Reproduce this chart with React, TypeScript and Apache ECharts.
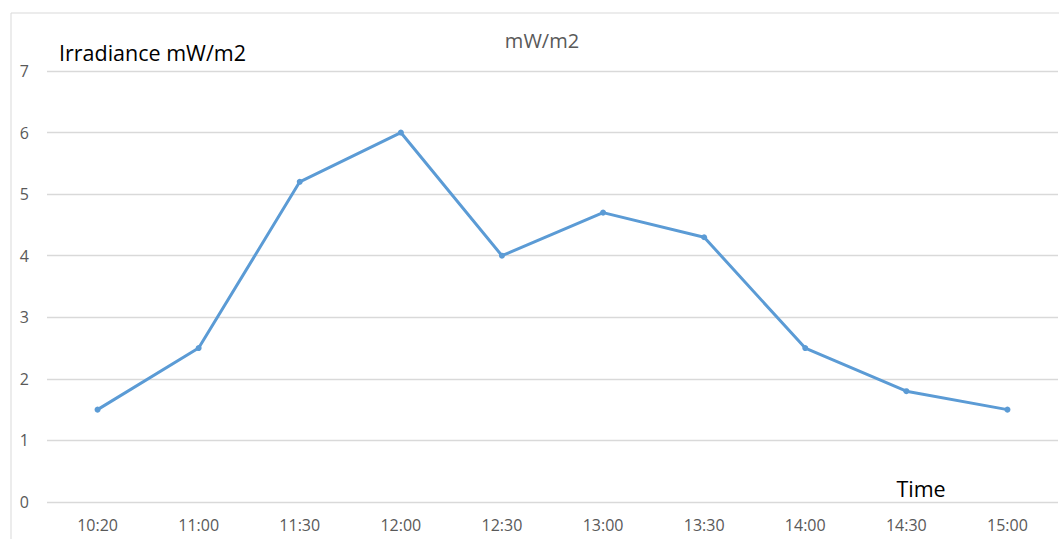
import React, { useEffect, useRef } from "react";
import * as echarts from "echarts";

const categories = ["10:20", "11:00", "11:30", "12:00", "12:30", "13:00", "13:30", "14:00", "14:30", "15:00"];
const irradiance = [1.5, 2.5, 5.2, 6.0, 4.0, 4.7, 4.3, 2.5, 1.8, 1.5];
const yTicks = { min: 0, max: 7, interval: 1 };
const chartTitle = "mW/m2";
const yTitle = "Irradiance mW/m2";
const xTitle = "Time";

export default function App() {
  const ref = useRef<HTMLDivElement>(null);
  useEffect(() => {
    if (!ref.current) return;
    const chart = echarts.init(ref.current, undefined, { renderer: "svg" });
    const font = "'Open Sans', 'Noto Sans', sans-serif";
    chart.setOption({
      animation: false,
      backgroundColor: "#ffffff",
      grid: { left: 47, right: 1, top: 71, bottom: 37, containLabel: false },
      xAxis: {
        type: "category",
        data: categories,
        boundaryGap: true,
        axisLine: { show: false },
        axisTick: { show: false },
        axisLabel: { color: "#595959", fontSize: 16, fontFamily: font, margin: 15 },
      },
      yAxis: {
        type: "value",
        min: yTicks.min,
        max: yTicks.max,
        interval: yTicks.interval,
        axisLine: { show: false },
        axisTick: { show: false },
        axisLabel: { color: "#595959", fontSize: 16, fontFamily: font, margin: 18 },
        splitLine: { lineStyle: { color: "#D9D9D9", width: 1.3 } },
      },
      graphic: [
        {
          type: "rect",
          shape: { x: 11, y: 13, width: 1100, height: 600 },
          style: { fill: "none", stroke: "#D9D9D9", lineWidth: 1 },
          silent: true,
          z: -1,
        },
        {
          type: "text",
          x: 542,
          y: 40,
          style: { text: chartTitle, fill: "#595959", font: `20px ${font}`, textAlign: "center", textVerticalAlign: "middle" },
        },
        {
          type: "text",
          x: 59,
          y: 52,
          style: { text: yTitle, fill: "#000000", font: `21.5px ${font}`, textAlign: "left", textVerticalAlign: "middle" },
        },
        {
          type: "text",
          x: 921,
          y: 488,
          style: { text: xTitle, fill: "#000000", font: `21.5px ${font}`, textAlign: "center", textVerticalAlign: "middle" },
        },
      ],
      series: [
        {
          type: "line",
          data: irradiance,
          symbol: "circle",
          symbolSize: 6,
          itemStyle: { color: "#5B9BD5" },
          lineStyle: { color: "#5B9BD5", width: 3 },
        },
      ],
    });
    return () => chart.dispose();
  }, []);
  return <div ref={ref} style={{ position: "fixed", left: 0, top: 0, width: 1059, height: 539 }} />;
}
